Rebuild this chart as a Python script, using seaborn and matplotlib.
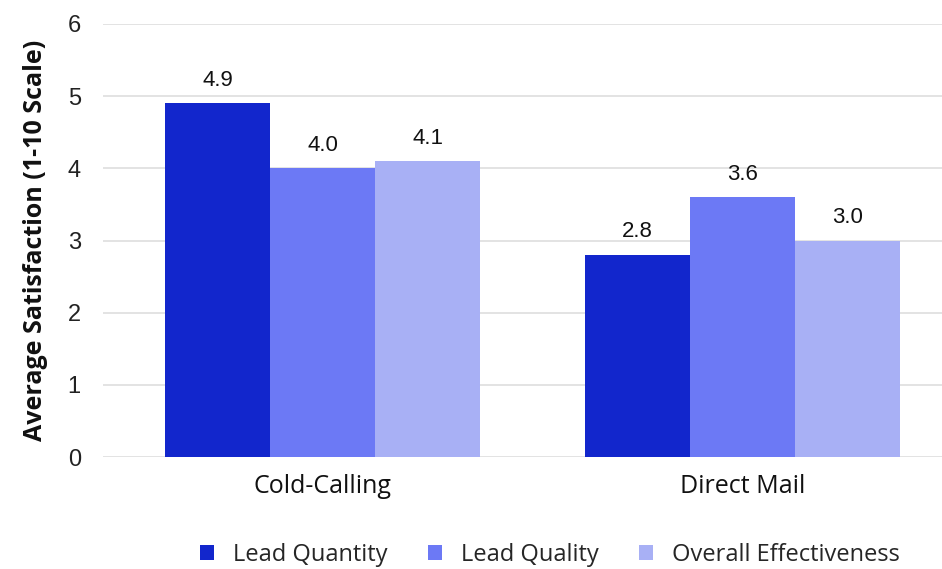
import matplotlib
matplotlib.use("Agg")
import matplotlib.pyplot as plt
import seaborn as sns
import pandas as pd

channels = ["Cold-Calling", "Direct Mail"]
metrics = ["Lead Quantity", "Lead Quality", "Overall Effectiveness"]
lead_quantity = [4.9, 2.8]
lead_quality = [4.0, 3.6]
overall_effectiveness = [4.1, 3.0]
colors = ["#1226cc", "#6c79f5", "#a8b0f5"]
y_ticks = [0, 1, 2, 3, 4, 5, 6]

rows = []
for metric, values in zip(metrics, [lead_quantity, lead_quality, overall_effectiveness]):
    for ch, v in zip(channels, values):
        rows.append({"Channel": ch, "Metric": metric, "Score": v})
df = pd.DataFrame(rows)

sns.set_theme(style="white")
plt.rcParams["font.family"] = ["Liberation Sans", "DejaVu Sans"]
geo = ["Open Sans", "DejaVu Sans"]

fig = plt.figure(figsize=(9.42, 5.69), dpi=100)
ax = fig.add_axes([103 / 942, 1 - 457 / 569, 839 / 942, 433 / 569])

sns.barplot(data=df, x="Channel", y="Score", hue="Metric", order=channels,
            hue_order=metrics, palette=colors, width=0.75, saturation=1,
            edgecolor="none", linewidth=0, ax=ax, legend=True)

for container in ax.containers:
    ax.bar_label(container, fmt="%.1f", padding=9, fontsize=16, color="#111111")

ax.set_ylim(0, 6)
ax.set_xlim(-0.523, 1.475)
ax.set_yticks(y_ticks)
ax.set_yticklabels([str(t) for t in y_ticks], fontsize=17, color="#222222")
ax.tick_params(axis="y", length=0, pad=16)
ax.tick_params(axis="x", length=0, pad=12)
for lbl in ax.get_xticklabels():
    lbl.set_fontfamily(geo)
    lbl.set_fontsize(18)
    lbl.set_color("#111111")
ax.yaxis.grid(True, color="#e0e0e0", linewidth=1.3)
ax.set_axisbelow(True)
for s in ax.spines.values():
    s.set_visible(False)
ax.set_xlabel("")
ax.set_ylabel("Average Satisfaction (1-10 Scale)", fontsize=18, fontweight="bold",
              family=geo, labelpad=14, color="#111111")

handles, labels = ax.get_legend_handles_labels()
ax.get_legend().remove()
fig.legend(handles, labels, loc="center", bbox_to_anchor=(550 / 942, 1 - 555 / 569),
           ncol=3, frameon=False, handlelength=0.6, handleheight=0.6,
           handletextpad=0.8, columnspacing=1.7,
           prop={"family": geo, "size": 17})

fig.savefig("out.png", dpi=100)
